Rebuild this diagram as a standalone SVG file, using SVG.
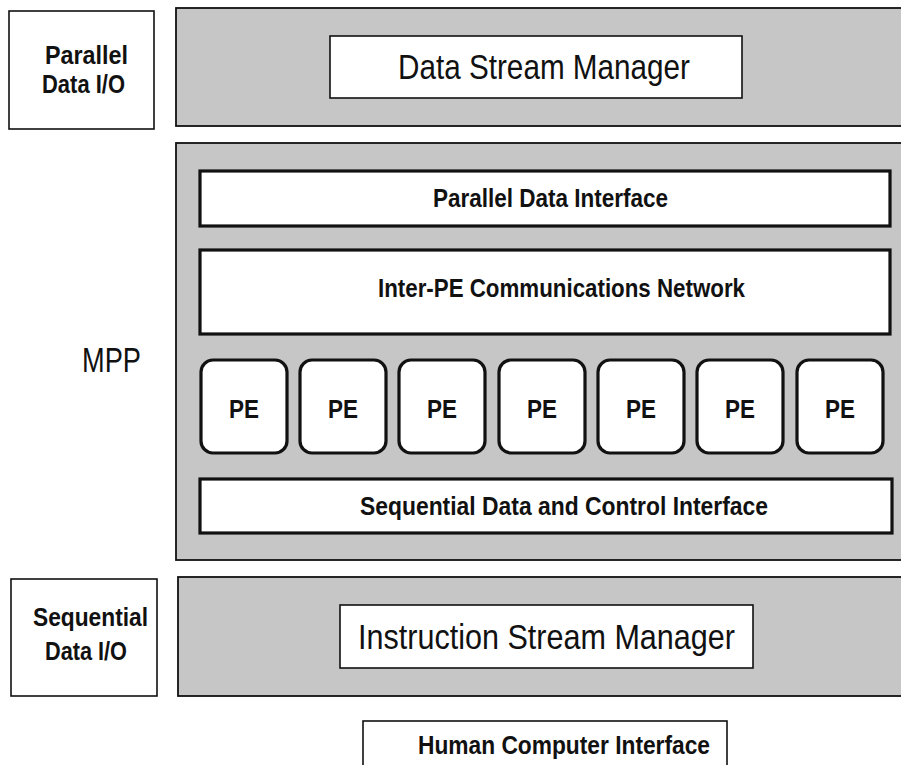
<svg xmlns="http://www.w3.org/2000/svg" width="901" height="765" viewBox="0 0 901 765">
  <style>
    .bg { fill: #ffffff; }
    .plain { fill: #ffffff; stroke: #111111; stroke-width: 1.6; }
    .shade { fill: #c6c6c6; stroke: #111111; stroke-width: 1.8; }
    .heavy { fill: #ffffff; stroke: #111111; stroke-width: 3.2; }
    .pe { fill: #ffffff; stroke: #111111; stroke-width: 3.2; }
    .reg { font-family: "Liberation Sans", Arial, sans-serif; font-weight: normal; fill: #111111; font-size: 35px; }
    .bold { font-family: "Liberation Sans", Arial, sans-serif; font-weight: bold; fill: #111111; font-size: 26px; }
  </style>
  <rect class="bg" x="0" y="0" width="901" height="765"/>

  <!-- top band: parallel data I/O and the data stream manager -->
  <g id="parallel-data-io">
    <rect class="plain" x="9" y="11" width="145" height="118"/>
    <text class="bold" x="45" y="64" textLength="83" lengthAdjust="spacingAndGlyphs">Parallel</text>
    <text class="bold" x="42" y="93" textLength="83" lengthAdjust="spacingAndGlyphs">Data I/O</text>
  </g>
  <g id="data-stream-manager">
    <rect class="shade" x="176" y="8" width="740" height="118"/>
    <rect class="plain" x="330" y="36" width="412" height="62"/>
    <text class="reg" x="398" y="79" textLength="292" lengthAdjust="spacingAndGlyphs">Data Stream Manager</text>
  </g>

  <!-- MPP block -->
  <text id="mpp-label" class="reg" x="82" y="372" font-size="30" textLength="59" lengthAdjust="spacingAndGlyphs">MPP</text>
  <g id="mpp">
    <rect class="shade" x="176" y="143" width="740" height="417"/>
  </g>
  <g id="parallel-data-interface">
    <rect class="heavy" x="200" y="171" width="690" height="55"/>
    <text class="bold" x="433" y="207" textLength="235" lengthAdjust="spacingAndGlyphs">Parallel Data Interface</text>
  </g>
  <g id="inter-pe-network">
    <rect class="heavy" x="200" y="250" width="690" height="84"/>
    <text class="bold" x="378" y="297" textLength="367" lengthAdjust="spacingAndGlyphs">Inter-PE Communications Network</text>
  </g>
  <g id="pe-1"><rect class="pe" x="201" y="360" width="86" height="93" rx="12"/><text class="bold" x="229" y="418" textLength="30" lengthAdjust="spacingAndGlyphs">PE</text></g>
  <g id="pe-2"><rect class="pe" x="300" y="360" width="86" height="93" rx="12"/><text class="bold" x="328" y="418" textLength="30" lengthAdjust="spacingAndGlyphs">PE</text></g>
  <g id="pe-3"><rect class="pe" x="399" y="360" width="86" height="93" rx="12"/><text class="bold" x="427" y="418" textLength="30" lengthAdjust="spacingAndGlyphs">PE</text></g>
  <g id="pe-4"><rect class="pe" x="499" y="360" width="86" height="93" rx="12"/><text class="bold" x="527" y="418" textLength="30" lengthAdjust="spacingAndGlyphs">PE</text></g>
  <g id="pe-5"><rect class="pe" x="598" y="360" width="86" height="93" rx="12"/><text class="bold" x="626" y="418" textLength="30" lengthAdjust="spacingAndGlyphs">PE</text></g>
  <g id="pe-6"><rect class="pe" x="697" y="360" width="86" height="93" rx="12"/><text class="bold" x="725" y="418" textLength="30" lengthAdjust="spacingAndGlyphs">PE</text></g>
  <g id="pe-7"><rect class="pe" x="797" y="360" width="86" height="93" rx="12"/><text class="bold" x="825" y="418" textLength="30" lengthAdjust="spacingAndGlyphs">PE</text></g>
  <g id="sequential-data-control-interface">
    <rect class="heavy" x="200" y="479" width="692" height="54"/>
    <text class="bold" x="360" y="515" textLength="408" lengthAdjust="spacingAndGlyphs">Sequential Data and Control Interface</text>
  </g>

  <!-- bottom band: sequential data I/O and the instruction stream manager -->
  <g id="sequential-data-io">
    <rect class="plain" x="11" y="579" width="146" height="117"/>
    <text class="bold" x="33" y="626" textLength="115" lengthAdjust="spacingAndGlyphs">Sequential</text>
    <text class="bold" x="45" y="660" textLength="82" lengthAdjust="spacingAndGlyphs">Data I/O</text>
  </g>
  <g id="instruction-stream-manager">
    <rect class="shade" x="178" y="577" width="740" height="119"/>
    <rect class="plain" x="340" y="605" width="413" height="63"/>
    <text class="reg" x="358" y="649" textLength="377" lengthAdjust="spacingAndGlyphs">Instruction Stream Manager</text>
  </g>
  <g id="human-computer-interface">
    <rect class="plain" x="363" y="721" width="364" height="50"/>
    <text class="bold" x="418" y="754" textLength="292" lengthAdjust="spacingAndGlyphs">Human Computer Interface</text>
  </g>

  <!-- no connectors are drawn between the layers -->
  <g id="connectors"/>
</svg>
